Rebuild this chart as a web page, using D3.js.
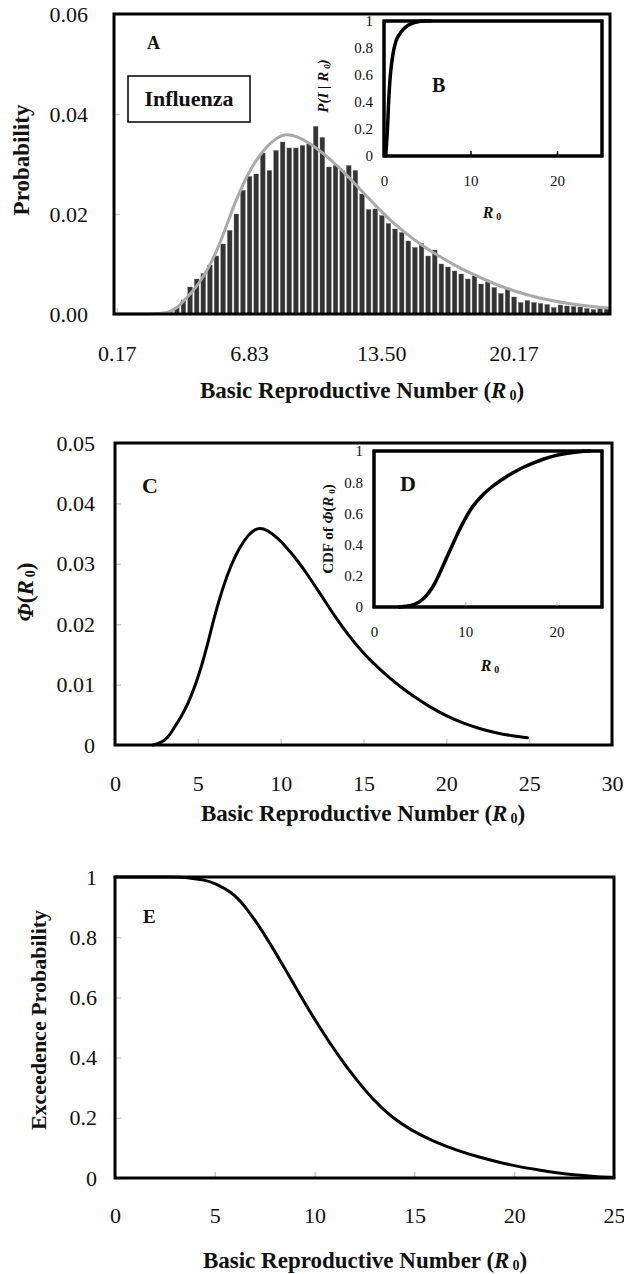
<!DOCTYPE html>
<html>
<head>
<meta charset="utf-8">
<title>Influenza R0</title>
<script src="https://cdn.jsdelivr.net/npm/d3@7"></script>
<style>
  body { margin: 0; background: #fff; }
  svg text { font-family: "Liberation Serif", "Times New Roman", serif; fill: #111; }
  .title { font-size: 23px; font-weight: bold; }
  .bold { font-weight: bold; }
</style>
</head>
<body>
<script>
// histogram bins (centre of each R0 bin) and their probabilities, panel A
var binCenters = [
  0.17, 0.50, 0.83, 1.17, 1.50, 1.83, 2.17, 2.50, 2.83, 3.17, 3.50, 3.83, 4.17, 4.50, 4.83,
  5.17, 5.50, 5.83, 6.17, 6.50, 6.83, 7.17, 7.50, 7.83, 8.17, 8.50, 8.83, 9.17, 9.50, 9.83,
  10.17, 10.50, 10.83, 11.17, 11.50, 11.83, 12.17, 12.50, 12.83, 13.17, 13.50, 13.83, 14.17, 14.50, 14.83,
  15.17, 15.50, 15.83, 16.17, 16.50, 16.83, 17.17, 17.50, 17.83, 18.17, 18.50, 18.83, 19.17, 19.50, 19.83,
  20.17, 20.50, 20.83, 21.17, 21.50, 21.83, 22.17, 22.50, 22.83, 23.17, 23.50, 23.83, 24.17, 24.50, 24.83
];
var binProb = [
  0, 0, 0, 0, 0, 0, 0, 0, 0.0003, 0.0013, 0.0028, 0.0054, 0.0070, 0.0081, 0.0098,
  0.0116, 0.0140, 0.0167, 0.0200, 0.0247, 0.0275, 0.0280, 0.0322, 0.0287, 0.0327, 0.0344, 0.0332, 0.0332, 0.0337, 0.0340,
  0.0375, 0.0353, 0.0294, 0.0297, 0.0287, 0.0297, 0.0287, 0.0240, 0.0209, 0.0210, 0.0197, 0.0181, 0.0170, 0.0163, 0.0146,
  0.0133, 0.0141, 0.0116, 0.0128, 0.0100, 0.0094, 0.0086, 0.0080, 0.0070, 0.0076, 0.0060, 0.0064, 0.0053, 0.0041, 0.0052,
  0.0034, 0.0023, 0.0027, 0.0023, 0.0021, 0.0019, 0.0013, 0.0018, 0.0016, 0.0015, 0.0014, 0.0011, 0.0009, 0.0011, 0.0013
];
var binTicks = [0.17, 6.83, 13.50, 20.17];

// fitted density Phi(R0), panel C (also the grey line in A)
var phiR0 = [2.3, 2.8, 3.2, 3.6, 4.0, 4.4, 4.8, 5.2, 5.6, 6.0, 6.5, 7.0, 7.5, 8.0, 8.6, 9.2, 9.8, 10.4, 11.0, 11.6,
             12.2, 12.8, 13.4, 14.0, 14.8, 15.6, 16.4, 17.2, 18.0, 19.0, 20.0, 21.0, 22.0, 23.0, 24.0, 24.9];
var phiVal = [0, 0.0004, 0.0012, 0.0030, 0.0047, 0.0068, 0.0095, 0.0128, 0.0168, 0.0213, 0.0260, 0.0298, 0.0326, 0.0347, 0.0361, 0.0356, 0.0343, 0.0326, 0.0306, 0.0283,
              0.0258, 0.0233, 0.0208, 0.0185, 0.0158, 0.0135, 0.0115, 0.0097, 0.0081, 0.0063, 0.0048, 0.0036, 0.0027, 0.0020, 0.0015, 0.0012];

// inset B: P(I | R0)
var pR0 = [0.2, 0.4, 0.55, 0.75, 1.0, 1.25, 1.5, 2.0, 2.5, 3.0, 3.5, 4.0, 4.5, 5.4];
var pVal = [0, 0.2, 0.42, 0.61, 0.74, 0.82, 0.87, 0.92, 0.955, 0.975, 0.988, 0.995, 1.0, 1.0];

// inset D: CDF of Phi(R0)
var cdfR0 = [2.8, 3.5, 4.5, 5.5, 6.5, 7.0, 7.5, 8.0, 8.5, 9.0, 9.5, 10.3, 11.0, 12.0, 13.0, 13.6, 14.5, 15.5, 16.5, 17.5, 18.5, 19.8, 21.0, 22.6, 23.7];
var cdfVal = [0, 0.003, 0.015, 0.05, 0.13, 0.19, 0.255, 0.32, 0.385, 0.45, 0.51, 0.60, 0.66, 0.725, 0.775, 0.80, 0.835, 0.87, 0.90, 0.925, 0.947, 0.97, 0.984, 0.996, 1.0];

// panel E: exceedence probability
var exR0 = [0, 3.0, 3.7, 4.5, 5.0, 5.85, 6.5, 7.35, 8.3, 9.3, 10.2, 11.2, 12.1, 13.0, 13.9, 14.8, 16.0, 17.2, 18.2, 19.2, 20.2, 21.2, 22.0, 23.0, 24.0, 25.0];
var exVal = [1, 1, 0.998, 0.99, 0.98, 0.95, 0.905, 0.825, 0.72, 0.605, 0.505, 0.405, 0.325, 0.255, 0.2, 0.16, 0.12, 0.09, 0.07, 0.053, 0.038, 0.027, 0.018, 0.01, 0.005, 0.002];

var width = 624, height = 1274;
var svg = d3.select("body").append("svg")
            .attr("width", width)
            .attr("height", height);

function pairs(xs, ys) {
  return xs.map(function (x, i) { return [x, ys[i]]; });
}

function drawLine(xs, ys, data, color, w, curve) {
  svg.append("path")
     .datum(data)
     .attr("fill", "none")
     .attr("stroke", color)
     .attr("stroke-width", w)
     .attr("stroke-linejoin", "round")
     .attr("stroke-linecap", "round")
     .attr("d", d3.line()
                  .x(function (d) { return xs(d[0]); })
                  .y(function (d) { return ys(d[1]); })
                  .curve(curve || d3.curveBasis));
}

function frame(xs, ys, w, fill) {
  var r = xs.range(), s = ys.range();
  return svg.append("rect")
            .attr("x", r[0]).attr("y", s[1])
            .attr("width", r[1] - r[0]).attr("height", s[0] - s[1])
            .attr("fill", fill || "none")
            .attr("stroke", "#000")
            .attr("stroke-width", w);
}

function putAxis(axis, tx, ty, fs, tickCol) {
  var g = svg.append("g")
             .attr("transform", "translate(" + tx + "," + ty + ")")
             .call(axis);
  g.select(".domain").remove();
  g.attr("font-family", null).attr("font-size", null);
  g.selectAll(".tick text").attr("font-size", fs).attr("fill", "#111");
  g.selectAll(".tick line").attr("stroke", tickCol).attr("stroke-width", 1.5);
  return g;
}

// "(R0)" ending with italic R and small 0
function addR0(t, fs, close) {
  t.append("tspan").attr("font-style", "italic").text("R");
  t.append("tspan").attr("font-size", Math.round(fs * 0.62)).attr("dx", 3).attr("dy", 2).text("0");
  if (close) t.append("tspan").attr("dy", -2).text(")");
}

function xTitle(x, y) {
  var t = svg.append("text").attr("class", "title")
             .attr("x", x).attr("y", y)
             .attr("text-anchor", "middle")
             .text("Basic Reproductive Number (");
  addR0(t, 23, true);
}

function yTitle(x, y, fs) {
  return svg.append("text")
            .attr("class", "bold")
            .attr("font-size", fs)
            .attr("text-anchor", "middle")
            .attr("transform", "translate(" + x + "," + y + ") rotate(-90)");
}

function tag(x, y, fs, s) {
  svg.append("text").attr("class", "bold").attr("font-size", fs)
     .attr("x", x).attr("y", y).text(s);
}

// ---------- panel A ----------
var xA = d3.scaleBand().domain(binCenters).range([114, 610]).paddingInner(0.3).paddingOuter(0.15);
var xAl = d3.scaleLinear().domain([0, 25]).range([114, 610]);
var yA = d3.scaleLinear().domain([0, 0.06]).range([314, 14]);

putAxis(d3.axisLeft(yA).tickValues([0, 0.02, 0.04, 0.06]).tickFormat(d3.format(".2f"))
          .tickSizeInner(-6).tickSizeOuter(0).tickPadding(26), 114, 0, 22, "#ccc");
putAxis(d3.axisBottom(xA).tickValues(binTicks).tickFormat(d3.format(".2f"))
          .tickSizeInner(-6).tickSizeOuter(0).tickPadding(31), 0, 314, 22, "#ccc");

svg.append("g").selectAll("rect")
   .data(binCenters)
   .join("rect")
   .attr("x", function (d) { return xA(d); })
   .attr("width", xA.bandwidth())
   .attr("y", function (d, i) { return yA(binProb[i]); })
   .attr("height", function (d, i) { return yA(0) - yA(binProb[i]); })
   .attr("fill", "#333")
   .attr("stroke", "#6a6a6a")
   .attr("stroke-width", 0.4);

drawLine(xAl, yA, [[0, 0]].concat(pairs(phiR0, phiVal)), "#aaa", 3);
frame(xAl, yA, 3);

tag(147, 49, 18, "A");
svg.append("rect").attr("x", 128).attr("y", 76).attr("width", 122).attr("height", 46)
   .attr("fill", "#fff").attr("stroke", "#000").attr("stroke-width", 1.5);
svg.append("text").attr("class", "bold").attr("font-size", 22)
   .attr("x", 189).attr("y", 106).attr("text-anchor", "middle").text("Influenza");

yTitle(29, 160, 23).text("Probability");
xTitle(362, 398);

// inset B
var xB = d3.scaleLinear().domain([0, 25.2]).range([384, 602]);
var yB = d3.scaleLinear().domain([0, 1]).range([156, 21]);
frame(xB, yB, 3, "#fff");
putAxis(d3.axisLeft(yB).tickValues([0, 0.2, 0.4, 0.6, 0.8, 1]).tickFormat(d3.format("~g"))
          .tickSizeInner(0).tickSizeOuter(0).tickPadding(11), 384, 0, 15, "#000");
putAxis(d3.axisBottom(xB).tickValues([0, 10, 20])
          .tickSizeInner(-5).tickSizeOuter(0).tickPadding(19), 0, 156, 15, "#000");
drawLine(xB, yB, pairs(pR0, pVal), "#000", 3.5, d3.curveCatmullRom.alpha(0.5));
frame(xB, yB, 3);
tag(432, 92, 20, "B");
var tB = yTitle(328, 86, 15).attr("font-style", "italic").text("P(I | ");
addR0(tB, 15, true);
var rB = svg.append("text").attr("class", "bold").attr("font-size", 16)
            .attr("x", 492).attr("y", 218).attr("text-anchor", "middle");
addR0(rB, 16, false);

// ---------- panel C ----------
var xC = d3.scaleLinear().domain([0, 30]).range([115, 612]);
var yC = d3.scaleLinear().domain([0, 0.05]).range([745, 443]);

putAxis(d3.axisLeft(yC).tickValues([0, 0.01, 0.02, 0.03, 0.04, 0.05]).tickFormat(d3.format("~g"))
          .tickSizeInner(-6).tickSizeOuter(0).tickPadding(20), 115, 0, 22, "#ccc");
putAxis(d3.axisBottom(xC).tickValues([0, 5, 10, 15, 20, 25, 30])
          .tickSizeInner(-6).tickSizeOuter(0).tickPadding(30), 0, 745, 22, "#ccc");
drawLine(xC, yC, pairs(phiR0, phiVal), "#000", 3);
frame(xC, yC, 3);
tag(142, 493, 22, "C");

var tC = yTitle(33, 592, 23);
tC.append("tspan").attr("font-style", "italic").text("Φ");
tC.append("tspan").text("(");
addR0(tC, 23, true);
xTitle(363, 821);

// inset D
var xD = d3.scaleLinear().domain([0, 25]).range([374, 602]);
var yD = d3.scaleLinear().domain([0, 1]).range([607, 451]);
frame(xD, yD, 3, "#fff");
putAxis(d3.axisLeft(yD).tickValues([0, 0.2, 0.4, 0.6, 0.8, 1]).tickFormat(d3.format("~g"))
          .tickSizeInner(0).tickSizeOuter(0).tickPadding(11), 374, 0, 15, "#ccc");
putAxis(d3.axisBottom(xD).tickValues([0, 10, 20])
          .tickSizeInner(-5).tickSizeOuter(0).tickPadding(19), 0, 607, 15, "#ccc");
drawLine(xD, yD, pairs(cdfR0, cdfVal), "#000", 3.5);
frame(xD, yD, 3);
tag(400, 491, 22, "D");
var tD = yTitle(333, 529, 15).text("CDF of ");
tD.append("tspan").attr("font-style", "italic").text("Φ");
tD.append("tspan").text("(");
addR0(tD, 15, true);
var rD = svg.append("text").attr("class", "bold").attr("font-size", 16)
            .attr("x", 490).attr("y", 671).attr("text-anchor", "middle");
addR0(rD, 16, false);

// ---------- panel E ----------
var xE = d3.scaleLinear().domain([0, 25]).range([115, 614]);
var yE = d3.scaleLinear().domain([0, 1]).range([1178, 877]);

putAxis(d3.axisLeft(yE).tickValues([0, 0.2, 0.4, 0.6, 0.8, 1]).tickFormat(d3.format("~g"))
          .tickSizeInner(-6).tickSizeOuter(0).tickPadding(18), 115, 0, 22, "#ccc");
putAxis(d3.axisBottom(xE).tickValues([0, 5, 10, 15, 20, 25])
          .tickSizeInner(-6).tickSizeOuter(0).tickPadding(29), 0, 1178, 22, "#ccc");
drawLine(xE, yE, pairs(exR0, exVal), "#000", 3);
frame(xE, yE, 3);
tag(143, 923, 19, "E");
yTitle(46, 1020, 22).text("Exceedence Probability");
xTitle(365, 1268);
</script>
</body>
</html>
